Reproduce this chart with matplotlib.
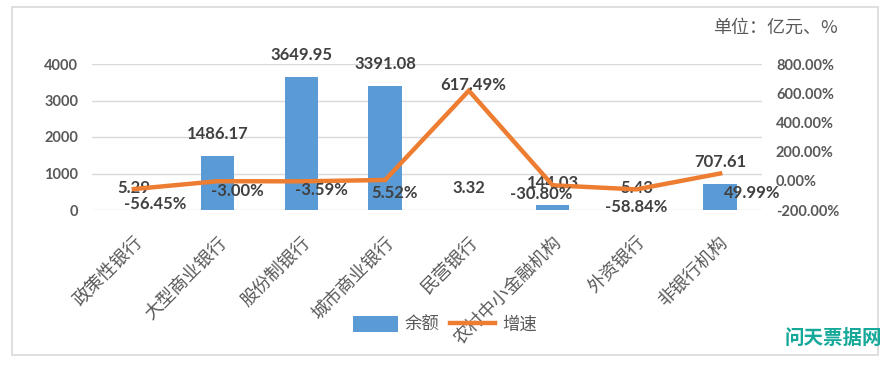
import matplotlib.pyplot as plt
from matplotlib.patches import Rectangle
from matplotlib.lines import Line2D
from matplotlib.patches import Patch
from matplotlib.ticker import FuncFormatter

# data
categories = ["政策性银行", "大型商业银行", "股份制银行", "城市商业银行",
              "民营银行", "农村中小金融机构", "外资银行", "非银行机构"]
balance = [5.29, 1486.17, 3649.95, 3391.08, 3.32, 144.03, 5.43, 707.61]
growth = [-56.45, -3.00, -3.59, 5.52, 617.49, -30.80, -58.84, 49.99]  # percent

cjk = ["Noto Sans CJK SC", "DejaVu Sans"]
num_font = "Lato"
bar_color = "#5b9bd5"
line_color = "#ed7d31"

fig = plt.figure(figsize=(8.92, 3.66), dpi=100)
W, H = 892, 366

# outer chart border
fig.patches.append(Rectangle((12 / W, 1 - 355 / H), 866 / W, 348 / H, transform=fig.transFigure,
                             fill=False, edgecolor="#d9d9d9", linewidth=1.2))

ax = fig.add_axes([92 / W, 1 - 210 / H, 670 / W, 146 / H])
ax2 = ax.twinx()

x = list(range(len(categories)))
ax.bar(x, balance, width=0.4, color=bar_color, zorder=2)
ax.set_ylim(0, 4000)
ax.set_yticks([0, 1000, 2000, 3000, 4000])
ax.set_xlim(-0.5, len(categories) - 0.5)
ax.yaxis.grid(True, color="#d9d9d9", linewidth=1)
ax.set_axisbelow(True)
for s in ax.spines.values():
    s.set_visible(False)
for s in ax2.spines.values():
    s.set_visible(False)
ax.tick_params(axis="both", length=0)
ax2.tick_params(axis="both", length=0)

ax2.plot(x, growth, color=line_color, linewidth=3.2, solid_joinstyle="miter", zorder=3)
ax2.set_ylim(-200, 800)
ax2.set_yticks([-200, 0, 200, 400, 600, 800])
ax2.yaxis.set_major_formatter(FuncFormatter(lambda v, p: f"{v:.2f}%"))

for lab in ax.get_yticklabels() + ax2.get_yticklabels():
    lab.set_fontfamily(num_font)
    lab.set_fontweight("bold")
    lab.set_fontsize(10.5)
    lab.set_color("#595959")
ax.tick_params(axis="y", pad=10)
ax2.tick_params(axis="y", pad=10)

ax.set_xticks(x)
ax.set_xticklabels(categories, rotation=45, ha="right", rotation_mode="anchor",
                   family=cjk, fontsize=13, color="#595959")
ax.tick_params(axis="x", pad=17)

# bar value labels
for i, v in enumerate(balance):
    ax.annotate(f"{v:.2f}", (i, v), xytext=(0, 16), textcoords="offset points",
                ha="center", va="center", fontfamily=num_font, fontweight="bold",
                fontsize=12, color="#404040", zorder=5)

# growth labels, offsets in pixels as placed on the chart
label_offsets = [(21, -15), (20, -10), (20, -9), (9, -13), (4, 6), (-11, -9), (0, -18), (32, -19)]
for i, v in enumerate(growth):
    dx, dy = label_offsets[i]
    ax2.annotate(f"{v:.2f}%", (i, v), xytext=(dx * 0.72, dy * 0.72), textcoords="offset points",
                 ha="center", va="center", fontfamily=num_font, fontweight="bold",
                 fontsize=12, color="#404040", zorder=5)

handles = [Patch(facecolor=bar_color), Line2D([0], [0], color=line_color, linewidth=3.2)]
fig.legend(handles, ["余额", "增速"], loc="center", bbox_to_anchor=(445 / W, 1 - 325 / H),
           ncol=2, frameon=False, prop={"family": cjk, "size": 12.5},
           handlelength=2.6, handleheight=1.0, columnspacing=0.6, handletextpad=0.4,
           labelcolor="#595959")

fig.text(713 / W, 1 - 28 / H, "单位：亿元、%", family=cjk, fontsize=13, color="#595959",
         ha="left", va="center")
fig.text(833 / W, 1 - 338 / H, "问天票据网", family=cjk, fontsize=14, fontweight="bold",
         color="#16a99a", ha="center", va="center")

fig.savefig("out.png", dpi=100)
